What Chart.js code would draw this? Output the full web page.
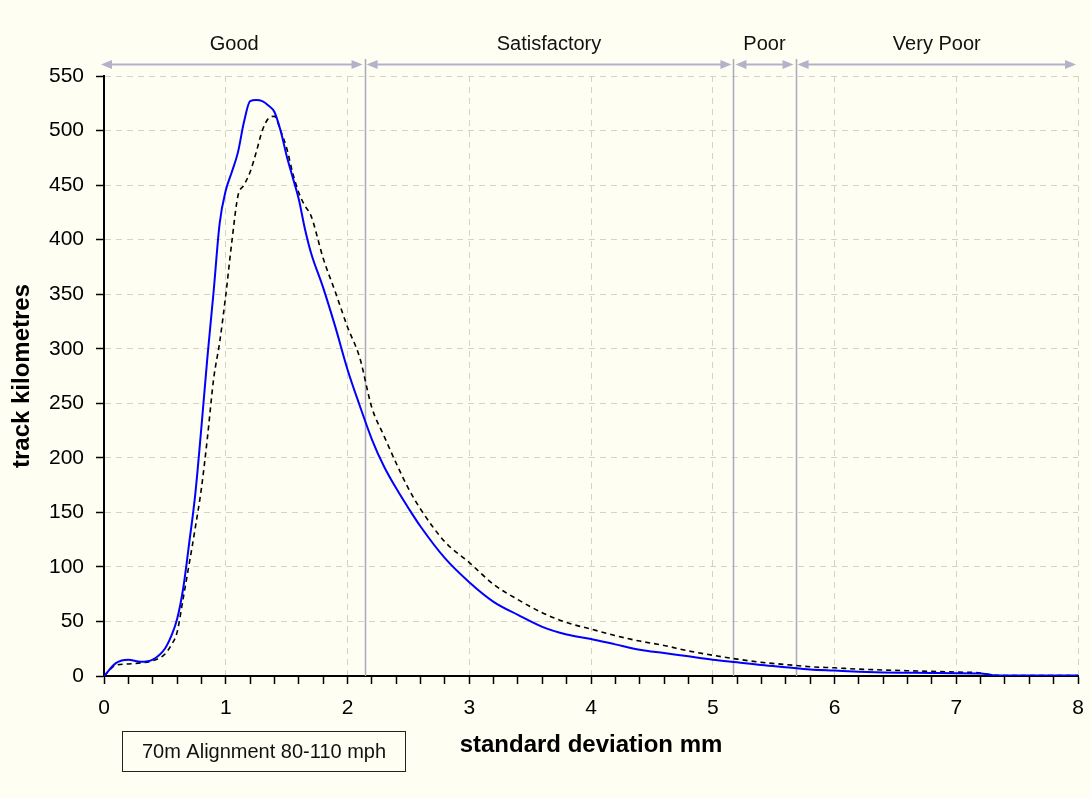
<!DOCTYPE html>
<html>
<head>
<meta charset="utf-8">
<title>70m Alignment 80-110 mph</title>
<script src="https://cdn.jsdelivr.net/npm/chart.js@4.4.1/dist/chart.umd.min.js"></script>
<style>
  html, body { margin: 0; padding: 0; background: #fefef2; }
  canvas { display: block; }
</style>
</head>
<body>
<canvas id="chart" width="1091" height="798"></canvas>
<script>
// standard deviation (mm) sample points
const sdValues = [0, 0.1, 0.2, 0.3, 0.4, 0.5, 0.55, 0.6, 0.65, 0.7, 0.75, 0.8, 0.85, 0.9, 0.95, 1.0,
    1.05, 1.1, 1.15, 1.2, 1.25, 1.3, 1.35, 1.4, 1.45, 1.5, 1.55, 1.6, 1.65, 1.7,
    1.8, 1.9, 2.0, 2.1, 2.2, 2.3, 2.4, 2.5, 2.6, 2.8, 3.0, 3.2, 3.4, 3.6, 3.8, 4.0,
    4.2, 4.4, 4.6, 4.8, 5.0, 5.2, 5.4, 5.6, 5.8, 6.0, 6.2, 6.4, 6.6, 6.8, 7.0,
    7.2, 7.3, 7.4, 7.6, 7.8, 8.0];

// track kilometres, solid blue curve
const solidKm = [0, 12, 15, 13, 15, 25, 36, 52, 80, 122, 167, 228, 293, 352, 415, 445,
    462, 480, 508, 527, 528, 527, 523, 517, 500, 477, 457, 437, 410, 388,
    356, 320, 281, 248, 217, 192, 172, 154, 137, 108, 86, 68, 56, 45, 38, 34,
    29, 24, 21, 18, 15, 12.5, 10, 8, 6, 5, 4, 3.3, 3, 2.7, 2.5,
    2.4, 0.8, 0.5, 0.5, 0.5, 0.5];

// track kilometres, dashed black curve
const dashedKm = [0, 10, 11, 12, 14, 20, 28, 40, 71, 103, 136, 172, 219, 272, 306, 349,
    398, 440, 450, 462, 480, 500, 511, 513, 500, 484, 461, 443, 431, 422,
    383, 352, 320, 292, 246, 220, 195, 172, 153, 123, 104, 84, 70, 58, 49, 43,
    37, 32, 28, 23, 19, 15.5, 12.5, 10.5, 8.5, 7.5, 6.3, 5.5, 4.8, 4.2, 3.6,
    2.8, 0.8, 0.5, 0.5, 0.5, 0.5];

const bandNames = ["Good", "Satisfactory", "Poor", "Very Poor"];
const bandLimits = [2.14, 5.17, 5.68];
const xMin = 0, xMax = 8, xMinorStep = 0.2;
const yMin = 0, yMax = 550, yStep = 50;
const boxLabel = "70m Alignment 80-110 mph";

const FONT = "'Liberation Sans', Arial, sans-serif";
const gridColor = "#d4d4c4";
const bandColor = "#aaaabd";
const arrowColor = "#b2b2c9";

function isMajor(v) {
    return Math.abs(v - Math.round(v)) < 1e-6;
}

function arrowHead(ctx, x, y, dir) {
    ctx.beginPath();
    ctx.moveTo(x, y);
    ctx.lineTo(x - dir * 11, y - 4.5);
    ctx.lineTo(x - dir * 11, y + 4.5);
    ctx.closePath();
    ctx.fill();
}

const bandPlugin = {
    id: "bands",
    beforeDraw(chart) {
        const ctx = chart.ctx;
        ctx.save();
        ctx.fillStyle = "#fefef2";
        ctx.fillRect(0, 0, chart.width, chart.height);
        ctx.restore();
    },
    beforeDatasetsDraw(chart) {
        const ctx = chart.ctx;
        const xs = chart.scales.x;
        const area = chart.chartArea;
        ctx.save();
        ctx.strokeStyle = bandColor;
        ctx.lineWidth = 1.5;
        bandLimits.forEach(v => {
            const px = Math.round(xs.getPixelForValue(v)) + 0.5;
            ctx.beginPath();
            ctx.moveTo(px, 59);
            ctx.lineTo(px, area.bottom);
            ctx.stroke();
        });
        ctx.restore();
    },
    afterDraw(chart) {
        const ctx = chart.ctx;
        const xs = chart.scales.x;
        const edges = [xMin, ...bandLimits, xMax];
        const arrowY = 64.5;
        ctx.save();
        ctx.strokeStyle = arrowColor;
        ctx.fillStyle = arrowColor;
        ctx.lineWidth = 2;
        for (let i = 0; i < bandNames.length; i++) {
            const x1 = xs.getPixelForValue(edges[i]) + (i === 0 ? -3 : 2);
            const x2 = xs.getPixelForValue(edges[i + 1]) - 2;
            ctx.beginPath();
            ctx.moveTo(x1 + 4, arrowY);
            ctx.lineTo(x2 - 4, arrowY);
            ctx.stroke();
            arrowHead(ctx, x1, arrowY, -1);
            arrowHead(ctx, x2, arrowY, 1);
        }

        ctx.fillStyle = "#111";
        ctx.font = "20px " + FONT;
        ctx.textAlign = "center";
        ctx.textBaseline = "middle";
        for (let i = 0; i < bandNames.length; i++) {
            const cx = (xs.getPixelForValue(edges[i]) + xs.getPixelForValue(edges[i + 1])) / 2;
            ctx.fillText(bandNames[i], cx, 44);
        }

        // caption box under the axis
        ctx.strokeStyle = "#222";
        ctx.lineWidth = 1;
        ctx.strokeRect(122.5, 731.5, 283, 40);
        ctx.fillStyle = "#111";
        ctx.font = "20px " + FONT;
        ctx.fillText(boxLabel, 264, 752);
        ctx.restore();
    }
};

new Chart(document.getElementById("chart"), {
    type: "line",
    data: {
        datasets: [{
            label: "solid",
            data: sdValues.map((x, i) => ({ x: x, y: solidKm[i] })),
            borderColor: "#0000ff",
            borderWidth: 2,
            pointRadius: 0,
            fill: false,
            cubicInterpolationMode: "monotone"
        }, {
            label: "dashed",
            data: sdValues.map((x, i) => ({ x: x, y: dashedKm[i] })),
            borderColor: "#000000",
            borderWidth: 1.6,
            borderDash: [5, 4],
            pointRadius: 0,
            fill: false,
            cubicInterpolationMode: "monotone"
        }]
    },
    options: {
        responsive: false,
        animation: false,
        layout: { padding: { left: 0, top: 76, right: 13, bottom: 0 } },
        plugins: {
            legend: { display: false },
            tooltip: { enabled: false }
        },
        scales: {
            x: {
                type: "linear",
                min: xMin,
                max: xMax,
                afterFit: scale => {
                    scale.height = 122;
                    scale.paddingLeft = 0;
                    scale.paddingRight = 0;
                },
                ticks: {
                    stepSize: xMinorStep,
                    autoSkip: false,
                    maxRotation: 0,
                    padding: 12,
                    color: "#000",
                    font: { family: FONT, size: 21 },
                    callback: v => isMajor(v) ? String(Math.round(v)) : ""
                },
                grid: {
                    color: ctx => (ctx.tick && isMajor(ctx.tick.value)) ? gridColor : "rgba(0,0,0,0)",
                    lineWidth: 1,
                    tickColor: "#000",
                    tickLength: 8,
                    tickWidth: 1.5
                },
                border: { display: true, color: "#000", width: 2, dash: [6, 5] },
                title: {
                    display: true,
                    text: "standard deviation mm",
                    color: "#000",
                    font: { family: FONT, size: 24, weight: "bold" },
                    padding: { top: 0, bottom: 38 }
                }
            },
            y: {
                min: yMin,
                max: yMax,
                afterFit: scale => { scale.width = 104; },
                ticks: {
                    stepSize: yStep,
                    padding: 12,
                    color: "#000",
                    font: { family: FONT, size: 21 }
                },
                grid: {
                    color: gridColor,
                    lineWidth: 1,
                    tickColor: "#000",
                    tickLength: 8,
                    tickWidth: 1.5
                },
                border: { display: true, color: "#000", width: 2, dash: [6, 5] },
                title: {
                    display: true,
                    text: "track kilometres",
                    color: "#000",
                    font: { family: FONT, size: 24, weight: "bold" },
                    padding: { top: 8, bottom: 0 }
                }
            }
        }
    },
    plugins: [bandPlugin]
});
</script>
</body>
</html>
